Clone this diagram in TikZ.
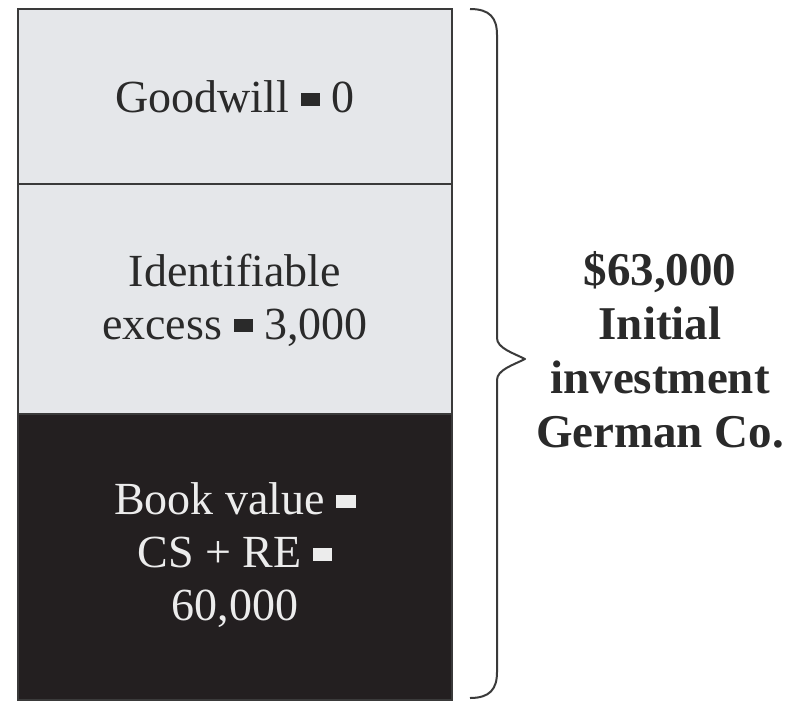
\documentclass[tikz,border=0pt]{standalone}
\usepackage{fontspec}
\setmainfont{Liberation Serif}
\definecolor{lightfill}{HTML}{E5E7EA}
\definecolor{darkfill}{HTML}{231F20}
\definecolor{edge}{HTML}{3A3A3A}
\definecolor{txt}{HTML}{2A2A2A}
\definecolor{paletxt}{HTML}{ECECEC}
\newcommand\eqsq{\rule[0.15em]{0.42em}{0.28em}}
\begin{document}
\begin{tikzpicture}[x=1pt,y=-1pt,
  part/.style={draw=edge, line width=2pt, minimum width=434pt, inner sep=0pt, outer sep=0pt},
  lbl/.style={font=\fontsize{46}{53}\selectfont, align=center, inner sep=0pt},
  rlbl/.style={font=\fontsize{47}{54}\selectfont\bfseries, align=center, inner sep=0pt, text=txt},
  bracel/.style={draw=edge, line width=2pt, line join=round}]
\useasboundingbox (0,0) rectangle (797,701);
\node[part, fill=lightfill, minimum height=175pt] (gw) at (235,96.5) {};
\node[part, fill=lightfill, minimum height=230pt] (ie) at (235,299) {};
\node[part, fill=darkfill, minimum height=286pt] (bv) at (235,557) {};
\node[lbl, text=txt] (t1) at (235,97) {Goodwill \eqsq{} 0};
\node[lbl, text=txt] (t2) at (235,300) {Identifiable\\excess \eqsq{} 3,000};
\node[lbl, text=paletxt] (t3) at (235,555) {Book value \eqsq{}\\CS + RE \eqsq{}\\60,000};
\node[rlbl] (t4) at (660,350) {\$63,000\\Initial\\investment\\German Co.};
\coordinate (btop) at (470,9);
\coordinate (btip) at (525,359);
\coordinate (bbot) at (470,698);
\draw[bracel] (btop) .. controls (490,9) and (497,18) .. (497,35) -- (497,338)
  .. controls (497,348) and (513,353) .. (btip)
  .. controls (513,365) and (497,370) .. (497,380) -- (497,672)
  .. controls (497,689) and (490,698) .. (bbot);
\end{tikzpicture}
\end{document}
